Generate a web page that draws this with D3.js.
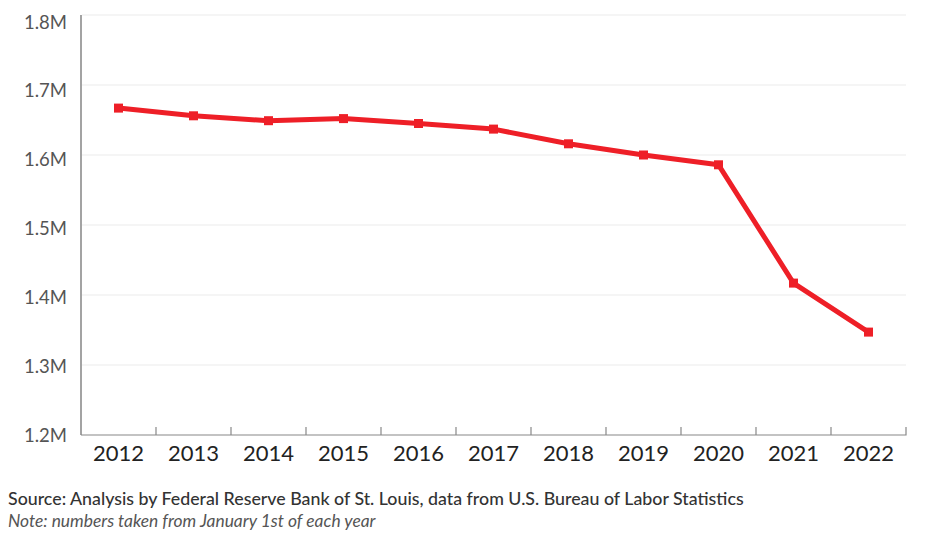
<!DOCTYPE html>
<html><head><meta charset="utf-8">
<script src="https://cdn.jsdelivr.net/npm/d3@7"></script>
<style>body{margin:0;background:#fff;}svg{display:block;font-family:Lato,"Open Sans",sans-serif;}</style>
</head><body>
<svg id="c" width="932" height="535"></svg>
<script>
const years = ["2012","2013","2014","2015","2016","2017","2018","2019","2020","2021","2022"];
const values = [1.667,1.656,1.649,1.652,1.645,1.637,1.616,1.600,1.586,1.417,1.347];
const yTicks = [1.2,1.3,1.4,1.5,1.6,1.7,1.8];
const sourceText = "Source: Analysis by Federal Reserve Bank of St. Louis, data from U.S. Bureau of Labor Statistics";
const noteText = "Note: numbers taken from January 1st of each year";

(function () {
const svg = d3.select("#c");
const mL = 81, mR = 906, mT = 15, mB = 435;
const x = d3.scaleBand().domain(years).range([mL, mR]);
const y = d3.scaleLinear().domain([1.2, 1.8]).range([mB, mT]);
const yLab = d3.scaleLinear().domain([1.2, 1.8]).range([435, 22]);

// gridlines
svg.append("g").selectAll("line").data(yTicks.filter(d => d > 1.2)).join("line")
  .attr("x1", mL + 1).attr("x2", mR)
  .attr("y1", d => y(d)).attr("y2", d => y(d))
  .attr("stroke", "#ebebeb").attr("stroke-width", 1);

// y labels
svg.append("g").selectAll("text").data(yTicks).join("text")
  .attr("x", 67).attr("y", d => yLab(d)).attr("dy", "0.36em")
  .attr("text-anchor", "end").attr("font-size", 18.5).attr("fill", "#555")
  .text(d => d.toFixed(1) + "M");

// y axis line
svg.append("line").attr("x1", mL).attr("x2", mL).attr("y1", mT).attr("y2", mB)
  .attr("stroke", "#666").attr("stroke-width", 1.2);

// x axis
const xAxis = svg.append("g").attr("transform", `translate(0,${mB})`)
  .call(d3.axisBottom(x).tickSize(0).tickPadding(10));
xAxis.select(".domain").attr("stroke", "#888").attr("stroke-width", 1.2)
  .attr("d", `M${mL},0H${mR}V-8`);
xAxis.selectAll("text").attr("font-size", 22).attr("fill", "#222").attr("font-family", "Lato");
// boundary ticks
svg.append("g").selectAll("line").data(years.slice(1)).join("line")
  .attr("x1", d => x(d)).attr("x2", d => x(d))
  .attr("y1", mB - 8).attr("y2", mB)
  .attr("stroke", "#888").attr("stroke-width", 1.2);

// line
const cx = d => x(d) + x.bandwidth() / 2;
svg.append("path").datum(values)
  .attr("fill", "none").attr("stroke", "#ee1f27").attr("stroke-width", 5)
  .attr("stroke-linejoin", "round")
  .attr("d", d3.line().x((d, i) => cx(years[i])).y(d => y(d)));
svg.append("g").selectAll("rect").data(values).join("rect")
  .attr("x", (d, i) => cx(years[i]) - 4.5).attr("y", d => y(d) - 4.5)
  .attr("width", 9).attr("height", 9).attr("fill", "#ee1f27");

// footer
svg.append("text").attr("x", 8).attr("y", 505).attr("font-size", 17.8).attr("font-weight", 500)
  .attr("fill", "#333").text(sourceText);
svg.append("text").attr("x", 8).attr("y", 527).attr("font-size", 17.4).attr("font-style", "italic")
  .attr("font-weight", 400).attr("fill", "#555").text(noteText);
})();
</script>
</body></html>
